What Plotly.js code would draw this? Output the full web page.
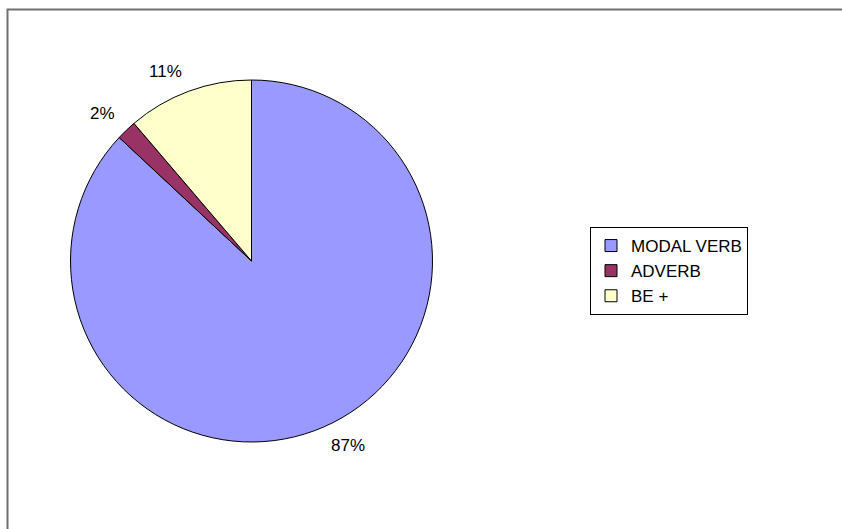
<!DOCTYPE html>
<html>
<head>
<meta charset="utf-8">
<script src="https://cdn.plot.ly/plotly-3.0.1.min.js"></script>
<style>html,body{margin:0;padding:0;background:#fff;}#chart{width:842px;height:529px;}</style>
</head>
<body>
<div id="chart"></div>
<script>
const categories = ["MODAL VERB", "ADVERB", "BE +"];
const values = [86.95, 1.8, 11.25];
const colors = ["#9999FF", "#993366", "#FFFFCC"];

const W = 842, H = 529;
const domX = [70.5 / W, 432.5 / W];
const domY = [1 - 442 / H, 1 - 80 / H];
const FONT = "Liberation Sans, Arial, sans-serif";

const trace = {
  type: "pie",
  labels: categories,
  values: values,
  sort: false,
  direction: "clockwise",
  rotation: 0,
  marker: {colors: colors, line: {color: "#000000", width: 1}},
  textinfo: "none",
  hoverinfo: "label+percent",
  domain: {x: domX, y: domY}
};

// percentage labels placed outside each slice, derived from the values
const total = values.reduce((a, b) => a + b, 0);
const cx = (domX[0] + domX[1]) / 2 * W;
const cy = (1 - (domY[0] + domY[1]) / 2) * H;
const r = Math.min((domX[1] - domX[0]) * W, (domY[1] - domY[0]) * H) / 2;
const gap = 13;
let cum = 0;
const annotations = values.map((v, i) => {
  const mid = (cum + v / 2) / total * 2 * Math.PI; // clockwise from top
  cum += v;
  const ux = Math.sin(mid), uy = -Math.cos(mid); // screen coords (y down)
  const px = cx + (r + gap) * ux;
  const py = cy + (r + gap) * uy;
  const yc = py + (uy > 0 ? 7 : -7);
  return {
    xref: "paper", yref: "paper",
    x: px / W, y: 1 - yc / H,
    xanchor: ux >= 0 ? "left" : "right", yanchor: "middle",
    text: Math.round(v / total * 100) + "%",
    showarrow: false,
    font: {family: FONT, size: 17, color: "#000"}
  };
});

const layout = {
  width: W, height: H,
  margin: {l: 0, r: 0, t: 0, b: 0},
  paper_bgcolor: "#ffffff",
  showlegend: true,
  legend: {
    x: 590 / W, xanchor: "left",
    y: 1 - 227 / H, yanchor: "top",
    bordercolor: "#000000", borderwidth: 1,
    bgcolor: "#ffffff",
    font: {family: FONT, size: 17, color: "#000"}
  },
  annotations: annotations,
  shapes: [{
    type: "rect", xref: "paper", yref: "paper",
    x0: 7.5 / W, x1: 1.2, y0: -0.2, y1: 1 - 9.5 / H,
    line: {color: "#707070", width: 2}, fillcolor: "rgba(0,0,0,0)", layer: "below"
  }]
};

Plotly.newPlot("chart", [trace], layout, {displayModeBar: false, staticPlot: true});
</script>
</body>
</html>
